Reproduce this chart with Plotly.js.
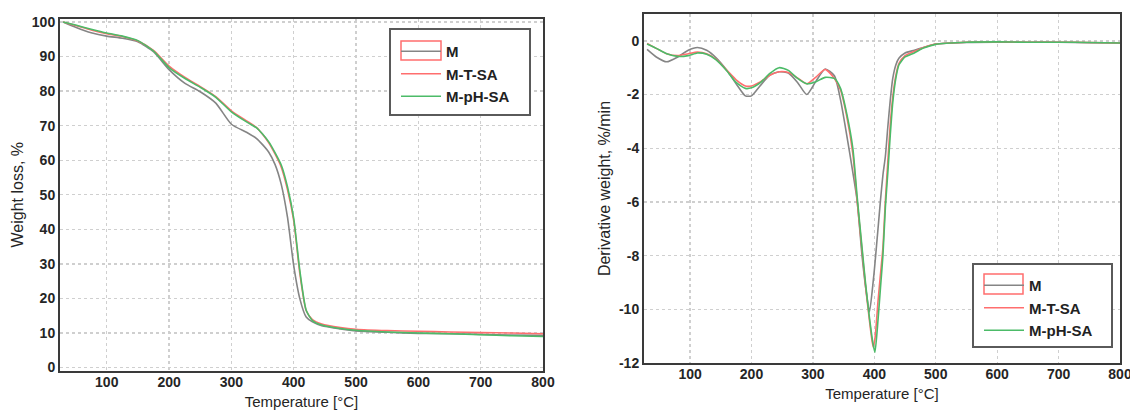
<!DOCTYPE html>
<html>
<head>
<meta charset="utf-8">
<script src="https://cdn.plot.ly/plotly-3.0.1.min.js"></script>
<style>html,body{margin:0;padding:0;background:#fff;}#chart{width:1130px;height:410px;}</style>
</head>
<body>
<div id="chart"></div>
<script>
// ---- Data ----
const seriesNames = ["M", "M-T-SA", "M-pH-SA"];
const seriesColors = ["#858585", "#ff6e6e", "#4cbb68"];

// TGA: weight loss (%) vs temperature (°C)
const tgaT = [30, 50, 75, 100, 125, 150, 175, 200, 225, 250, 275, 300, 325, 340, 350, 360, 370, 380, 390, 400, 410, 420, 430, 445, 475, 500, 550, 600, 650, 700, 750, 800];
const tgaM = [100, 98.5, 96.9, 95.9, 95.3, 94.3, 91.4, 86.2, 82.3, 79.8, 76.5, 70.4, 68.0, 66.3, 64.5, 62.3, 58.8, 53.0, 43.5, 29.5, 19.8, 14.6, 13.2, 12.1, 11.2, 10.6, 10.2, 9.9, 9.8, 9.6, 9.4, 9.3];
const tgaMTSA = [100, 99.0, 97.7, 96.6, 95.8, 94.5, 91.8, 87.2, 84.0, 81.3, 78.4, 74.3, 71.3, 69.5, 67.5, 65.0, 61.8, 58.0, 51.5, 42.5, 27.0, 16.5, 13.9, 12.6, 11.6, 11.1, 10.7, 10.5, 10.3, 10.1, 10.0, 9.8];
const tgaMpHSA = [100, 99.1, 97.9, 96.8, 95.9, 94.6, 91.6, 86.8, 83.7, 81.1, 78.2, 74.0, 71.0, 69.4, 67.6, 65.3, 62.2, 58.6, 52.3, 43.2, 27.8, 16.6, 13.6, 12.3, 11.3, 10.8, 10.3, 10.0, 9.8, 9.5, 9.2, 9.0];

// DTG: derivative weight (%/min) vs temperature (°C)
const dtgT = [30, 45, 62, 80, 97, 112, 127, 142, 160, 175, 190, 200, 215, 230, 245, 260, 275, 290, 305, 320, 335, 345, 355, 365, 372, 380, 386, 392, 398, 401, 406, 410, 414, 418, 422, 426, 430, 435, 440, 450, 465, 480, 500, 550, 600, 650, 700, 750, 800];
const dtgM = [-0.32, -0.6, -0.78, -0.6, -0.35, -0.25, -0.35, -0.62, -1.1, -1.6, -2.05, -2.05, -1.65, -1.28, -1.15, -1.2, -1.55, -2.0, -1.5, -1.05, -1.3, -2.2, -3.5, -4.9, -5.95, -8.0, -9.2, -10.1, -9.0, -8.3, -7.0, -5.95, -5.0, -4.3, -3.2, -2.2, -1.4, -0.9, -0.65, -0.45, -0.35, -0.25, -0.12, -0.06, -0.05, -0.05, -0.05, -0.07, -0.08];
const dtgMTSA = [-0.1, -0.28, -0.48, -0.55, -0.48, -0.42, -0.48, -0.68, -1.1, -1.45, -1.68, -1.68, -1.52, -1.28, -1.15, -1.18, -1.38, -1.6, -1.35, -1.07, -1.4, -1.83, -2.8, -4.2, -5.95, -7.8, -9.2, -10.4, -11.4, -11.1, -9.7, -8.7, -7.7, -5.95, -4.5, -3.1, -2.1, -1.3, -0.85, -0.55, -0.4, -0.25, -0.12, -0.05, -0.04, -0.05, -0.05, -0.06, -0.08];
const dtgMpHSA = [-0.12, -0.28, -0.48, -0.58, -0.55, -0.45, -0.5, -0.7, -1.12, -1.55, -1.77, -1.75, -1.55, -1.21, -1.0, -1.1, -1.4, -1.6, -1.52, -1.36, -1.4, -1.77, -2.7, -4.0, -5.8, -7.7, -9.1, -10.3, -11.3, -11.6, -10.4, -9.2, -8.0, -6.2, -4.9, -3.5, -2.3, -1.4, -0.9, -0.6, -0.45, -0.27, -0.13, -0.05, -0.04, -0.05, -0.05, -0.06, -0.08];

const xTicks = [100, 200, 300, 400, 500, 600, 700, 800];
const yTicksTGA = [0, 10, 20, 30, 40, 50, 60, 70, 80, 90, 100];
const yTicksDTG = [0, -2, -4, -6, -8, -10, -12];
const yTickTextDTG = ["0", "-2", "-4", "-6", "-8", "-10", "-12"];

// ---- Layout helpers ----
const W = 1130, H = 410;
const px = v => v / W;
const py = v => (H - v) / H;
const FONT = "Liberation Sans, Arial, sans-serif";
const TXT = "#252525";

const tgaSeries = [tgaM, tgaMTSA, tgaMpHSA];
const dtgSeries = [dtgM, dtgMTSA, dtgMpHSA];
const traces = [];
seriesNames.forEach((n, i) => {
  traces.push({x: tgaT, y: tgaSeries[i], name: n, type: "scatter", mode: "lines",
    line: {color: seriesColors[i], width: 1.6, shape: "spline", smoothing: 0.6},
    xaxis: "x", yaxis: "y", legend: "legend"});
});
seriesNames.forEach((n, i) => {
  traces.push({x: dtgT, y: dtgSeries[i], name: n, type: "scatter", mode: "lines",
    line: {color: seriesColors[i], width: 1.6, shape: "spline", smoothing: 0.6},
    xaxis: "x2", yaxis: "y2", legend: "legend2"});
});

const axisCommon = {
  showline: true, mirror: true, linecolor: "#3a3a3a", linewidth: 2,
  showgrid: true, gridcolor: "#cfcfcf", griddash: "dot", gridwidth: 1.3,
  zeroline: false, ticks: "", ticklabeloverflow: "allow",
  tickfont: {family: FONT, size: 14, color: TXT, weight: "bold"}
};

const layout = {
  width: W, height: H,
  margin: {l: 0, r: 0, t: 0, b: 0},
  paper_bgcolor: "#fff", plot_bgcolor: "#fff",
  font: {family: FONT, color: TXT},
  xaxis: Object.assign({}, axisCommon, {domain: [px(60), px(543)], range: [25, 800],
    tickvals: xTicks, ticklabelstandoff: -3,
    title: {text: "Temperature [°C]", standoff: 9, font: {family: FONT, size: 15, color: TXT}}}),
  yaxis: Object.assign({}, axisCommon, {domain: [py(371), py(18.5)], range: [-1, 101],
    tickvals: yTicksTGA,
    title: {text: "Weight loss, %", standoff: 4, font: {family: FONT, size: 16, color: TXT}}}),
  xaxis2: Object.assign({}, axisCommon, {anchor: "y2", domain: [px(644), px(1120)], range: [25, 800],
    tickvals: xTicks, ticklabelstandoff: -3,
    title: {text: "Temperature [°C]", standoff: 8, font: {family: FONT, size: 15, color: TXT}}}),
  yaxis2: Object.assign({}, axisCommon, {anchor: "x2", domain: [py(363), py(14)], range: [-12, 1],
    tickvals: yTicksDTG, ticktext: yTickTextDTG,
    title: {text: "Derivative weight, %/min", standoff: 4, font: {family: FONT, size: 16, color: TXT}}}),
  legend: {x: px(396), y: py(35), xanchor: "left", yanchor: "top", bgcolor: "rgba(0,0,0,0)",
    borderwidth: 0, itemwidth: 40, font: {family: FONT, size: 15, color: "#222", weight: "bold"}},
  legend2: {x: px(979), y: py(269), xanchor: "left", yanchor: "top", bgcolor: "rgba(0,0,0,0)",
    borderwidth: 0, itemwidth: 40, font: {family: FONT, size: 15, color: "#222", weight: "bold"}},
  shapes: [
    {type: "rect", xref: "paper", yref: "paper", x0: px(390), x1: px(530), y0: py(115), y1: py(29),
      fillcolor: "#fff", line: {color: "#5a5a5a", width: 2}, layer: "above"},
    {type: "rect", xref: "paper", yref: "paper", x0: px(401), x1: px(441), y0: py(60), y1: py(41),
      fillcolor: "rgba(0,0,0,0)", line: {color: "#ff6e6e", width: 1.5}, layer: "above"},
    {type: "rect", xref: "paper", yref: "paper", x0: px(973), x1: px(1112), y0: py(347), y1: py(264),
      fillcolor: "#fff", line: {color: "#5a5a5a", width: 2}, layer: "above"},
    {type: "rect", xref: "paper", yref: "paper", x0: px(984), x1: px(1023), y0: py(294), y1: py(274),
      fillcolor: "rgba(0,0,0,0)", line: {color: "#ff6e6e", width: 1.5}, layer: "above"}
  ]
};

Plotly.newPlot("chart", traces, layout, {displayModeBar: false, staticPlot: true});
</script>
</body>
</html>
